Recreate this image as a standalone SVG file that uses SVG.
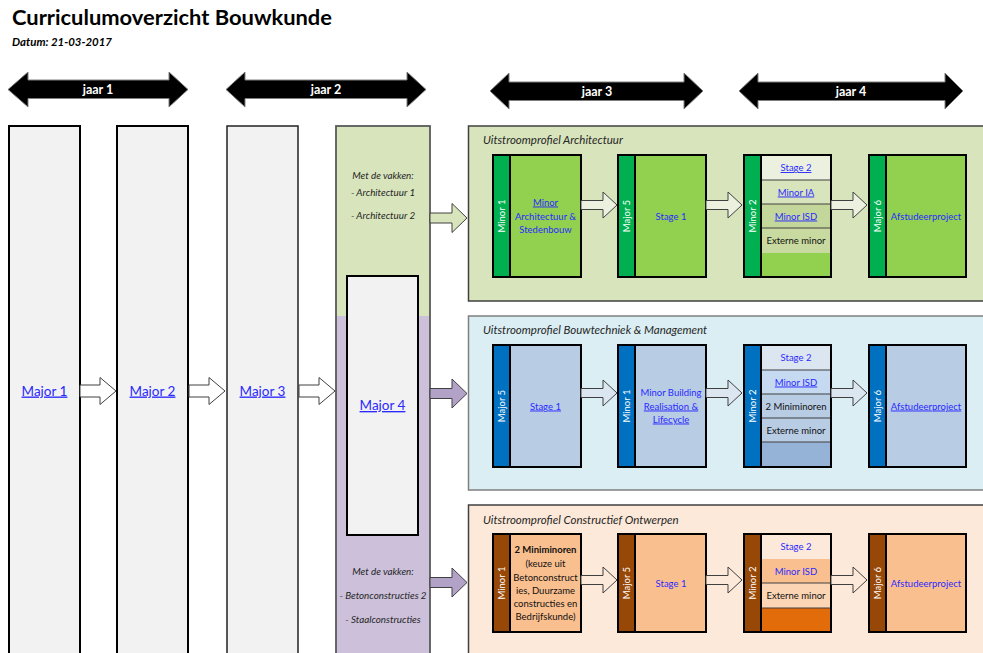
<svg xmlns="http://www.w3.org/2000/svg" width="983" height="653" viewBox="0 0 983 653">
<style>
text{font-family:Lato,"Liberation Sans",sans-serif}
.col{fill:#f2f2f2;stroke:#000;stroke-width:2}
.blk{stroke:#000;stroke-width:2}
.ol{fill:none;stroke:#000;stroke-width:2}
.big{font-size:13.5px}
.sm{font-size:9.5px}
.it{font-style:italic;font-size:9.8px;fill:#262626}
.pt{font-style:italic;font-size:11.5px;fill:#262626}
.bl{fill:#2a2aff}
.u{text-decoration:underline}
.k{fill:#111}
.w{fill:#fff;font-size:9.5px}
.hd{fill:#000;stroke:#7f7f7f;stroke-width:1}
.hdt{fill:#fff;font-weight:bold;font-size:12.5px}
.arr{stroke:#404040;stroke-width:1}
.sep{stroke:#404040;stroke-width:1.2}
</style>
<defs>
<path id="pa" d="M0,-4.5H22V-13L36,0L22,13V4.5H0Z"/>
<path id="ma" d="M0,-6H20V-13.5L36,0L20,13.5V6H0Z"/>
<path id="ca" d="M0,-5H22V-14.5L37,0L22,14.5V5H0Z"/>
</defs>

<g id="title">
<text x="12" y="25" font-weight="bold" font-size="20.5" textLength="320" lengthAdjust="spacingAndGlyphs">Curriculumoverzicht Bouwkunde</text>
<text x="12" y="46" font-weight="bold" font-style="italic" font-size="10.5" textLength="100" lengthAdjust="spacingAndGlyphs">Datum: 21-03-2017</text>
</g>

<g id="jaar1"><polygon class="hd" points="8,89.5 28,72 28,80 169,80 169,72 188,89.5 169,107 169,98.5 28,98.5 28,107"/><text class="hdt" x="98" y="94" text-anchor="middle">jaar 1</text></g>
<g id="jaar2"><polygon class="hd" points="226,89.5 245,72 245,80 407,80 407,72 426,89.5 407,107 407,98.5 245,98.5 245,107"/><text class="hdt" x="326" y="94" text-anchor="middle">jaar 2</text></g>
<g id="jaar3"><polygon class="hd" points="490,91 509,73 509,82 684,82 684,73 703,91 684,109 684,100.5 509,100.5 509,109"/><text class="hdt" x="597" y="95.5" text-anchor="middle">jaar 3</text></g>
<g id="jaar4"><polygon class="hd" points="739,91 758,73 758,82 945,82 945,73 963,91 945,109 945,100.5 758,100.5 758,109"/><text class="hdt" x="851" y="95.5" text-anchor="middle">jaar 4</text></g>

<g id="major1"><rect class="col" x="9" y="126" width="71" height="540"/><text class="big bl u" x="44.5" y="395.5" text-anchor="middle">Major 1</text></g>
<g id="major2"><rect class="col" x="117" y="126" width="71" height="540"/><text class="big bl u" x="152.5" y="395.5" text-anchor="middle">Major 2</text></g>
<g id="major3"><rect class="col" x="227" y="126" width="71" height="540" style="stroke:#222;stroke-width:1.5"/><text class="big bl u" x="262.5" y="395.5" text-anchor="middle">Major 3</text></g>

<g id="column4">
<rect x="336" y="126" width="94" height="190" fill="#d8e4bc"/>
<rect x="336" y="316" width="94" height="350" fill="#ccc0da"/>
<rect x="336" y="126" width="94" height="540" fill="none" stroke="#595959" stroke-width="1.8"/>
<text class="it" x="383" y="179" text-anchor="middle">Met de vakken:</text>
<text class="it" x="383" y="196" text-anchor="middle">- Architectuur 1</text>
<text class="it" x="383" y="219" text-anchor="middle">- Architectuur 2</text>
<text class="it" x="383" y="575" text-anchor="middle">Met de vakken:</text>
<text class="it" x="383" y="598.5" text-anchor="middle">- Betonconstructies 2</text>
<text class="it" x="383" y="622.5" text-anchor="middle">- Staalconstructies</text>
</g>
<g id="major4"><rect class="col" x="347" y="276" width="71" height="259"/><text class="big bl u" x="382.5" y="410" text-anchor="middle">Major 4</text></g>

<g id="panel-architectuur">
<rect x="468.5" y="126" width="530" height="175" fill="#d8e4bc" stroke="#404040" stroke-width="1.5"/>
<text class="pt" x="483" y="144">Uitstroomprofiel Architectuur</text>
</g>
<g id="panel-bouwtechniek">
<rect x="468.5" y="316" width="530" height="174" fill="#daeef3" stroke="#7f7f7f" stroke-width="1.5"/>
<text class="pt" x="483" y="334">Uitstroomprofiel Bouwtechniek &amp; Management</text>
</g>
<g id="panel-constructief">
<rect x="468.5" y="505" width="530" height="160" fill="#fde9d9" stroke="#404040" stroke-width="1.5"/>
<text class="pt" x="483" y="524">Uitstroomprofiel Constructief Ontwerpen</text>
</g>

<g id="a-minor1">
<rect class="blk" x="493" y="155" width="88" height="122" fill="#92d050"/>
<rect class="blk" x="493" y="155" width="17" height="122" fill="#00b050"/>
<text class="w" x="501.5" y="216" text-anchor="middle" dominant-baseline="central" transform="rotate(-90 501.5 216)">Minor 1</text>
<text class="sm bl u" x="545.5" y="205.5" text-anchor="middle">Minor</text>
<text class="sm bl" x="545.5" y="219.5" text-anchor="middle">Architectuur &amp;</text>
<text class="sm bl" x="545.5" y="232.5" text-anchor="middle">Stedenbouw</text>
</g>
<g id="a-major5">
<rect class="blk" x="618" y="155" width="88" height="122" fill="#92d050"/>
<rect class="blk" x="618" y="155" width="17" height="122" fill="#00b050"/>
<text class="w" x="626.5" y="216" text-anchor="middle" dominant-baseline="central" transform="rotate(-90 626.5 216)">Major 5</text>
<text class="sm bl" x="671" y="219.5" text-anchor="middle">Stage 1</text>
</g>
<g id="a-minor2">
<rect x="744" y="155" width="87" height="122" fill="#92d050"/>
<rect x="761" y="155" width="70" height="25" fill="#ebf1de"/>
<rect x="761" y="180" width="70" height="24" fill="#d8e4bc"/>
<rect x="761" y="204" width="70" height="24" fill="#c4d79b"/>
<rect x="761" y="228" width="70" height="25" fill="#c8da9f"/>
<line class="sep" x1="761" y1="180" x2="831" y2="180"/>
<line class="sep" x1="761" y1="204" x2="831" y2="204"/>
<line class="sep" x1="761" y1="228" x2="831" y2="228"/>
<rect class="blk" x="744" y="155" width="17" height="122" fill="#00b050"/>
<rect class="ol" x="744" y="155" width="87" height="122"/>
<text class="w" x="752.5" y="216" text-anchor="middle" dominant-baseline="central" transform="rotate(-90 752.5 216)">Minor 2</text>
<text class="sm bl u" x="796" y="171" text-anchor="middle">Stage 2</text>
<text class="sm bl u" x="796" y="195.5" text-anchor="middle">Minor IA</text>
<text class="sm bl u" x="796" y="219.5" text-anchor="middle">Minor ISD</text>
<text class="sm k" x="796" y="244" text-anchor="middle">Externe minor</text>
</g>
<g id="a-major6">
<rect class="blk" x="869" y="155" width="97" height="122" fill="#92d050"/>
<rect class="blk" x="869" y="155" width="17" height="122" fill="#00b050"/>
<text class="w" x="877.5" y="216" text-anchor="middle" dominant-baseline="central" transform="rotate(-90 877.5 216)">Major 6</text>
<text class="sm bl" x="926" y="219.5" text-anchor="middle">Afstudeerproject</text>
</g>

<g id="b-major5">
<rect class="blk" x="493" y="345" width="88" height="122" fill="#b8cce4"/>
<rect class="blk" x="493" y="345" width="17" height="122" fill="#0070c0"/>
<text class="w" x="501.5" y="406" text-anchor="middle" dominant-baseline="central" transform="rotate(-90 501.5 406)">Major 5</text>
<text class="sm bl u" x="545.5" y="409.5" text-anchor="middle">Stage 1</text>
</g>
<g id="b-minor1">
<rect class="blk" x="618" y="345" width="88" height="122" fill="#b8cce4"/>
<rect class="blk" x="618" y="345" width="17" height="122" fill="#0070c0"/>
<text class="w" x="626.5" y="406" text-anchor="middle" dominant-baseline="central" transform="rotate(-90 626.5 406)">Minor 1</text>
<text class="sm bl" x="671" y="395.5" text-anchor="middle">Minor Building</text>
<text class="sm bl u" x="671" y="409.5" text-anchor="middle">Realisation &amp;</text>
<text class="sm bl u" x="671" y="422.5" text-anchor="middle">Lifecycle</text>
</g>
<g id="b-minor2">
<rect x="744" y="345" width="87" height="122" fill="#95b3d7"/>
<rect x="761" y="345" width="70" height="25" fill="#dce6f1"/>
<rect x="761" y="370" width="70" height="24" fill="#c5d9f1"/>
<rect x="761" y="394" width="70" height="48" fill="#b8cce4"/>
<line class="sep" x1="761" y1="370" x2="831" y2="370"/>
<line class="sep" x1="761" y1="394" x2="831" y2="394"/>
<line class="sep" x1="761" y1="418" x2="831" y2="418"/>
<line class="sep" x1="761" y1="442" x2="831" y2="442"/>
<rect class="blk" x="744" y="345" width="17" height="122" fill="#0070c0"/>
<rect class="ol" x="744" y="345" width="87" height="122"/>
<text class="w" x="752.5" y="406" text-anchor="middle" dominant-baseline="central" transform="rotate(-90 752.5 406)">Minor 2</text>
<text class="sm bl" x="796" y="361" text-anchor="middle">Stage 2</text>
<text class="sm bl u" x="796" y="385.5" text-anchor="middle">Minor ISD</text>
<text class="sm k" x="796" y="409.5" text-anchor="middle">2 Miniminoren</text>
<text class="sm k" x="796" y="433.5" text-anchor="middle">Externe minor</text>
</g>
<g id="b-major6">
<rect class="blk" x="869" y="345" width="97" height="122" fill="#b8cce4"/>
<rect class="blk" x="869" y="345" width="17" height="122" fill="#0070c0"/>
<text class="w" x="877.5" y="406" text-anchor="middle" dominant-baseline="central" transform="rotate(-90 877.5 406)">Major 6</text>
<text class="sm bl u" x="926" y="409.5" text-anchor="middle">Afstudeerproject</text>
</g>

<g id="c-minor1">
<rect class="blk" x="493" y="534" width="88" height="98" fill="#fabf8f"/>
<rect class="blk" x="493" y="534" width="17" height="98" fill="#974706"/>
<text class="w" x="501.5" y="583" text-anchor="middle" dominant-baseline="central" transform="rotate(-90 501.5 583)">Minor 1</text>
<text class="sm k" x="545.5" y="552.5" text-anchor="middle" font-weight="bold">2 Miniminoren</text>
<text class="sm k" x="545.5" y="566.5" text-anchor="middle">(keuze uit</text>
<text class="sm k" x="545.5" y="580.5" text-anchor="middle">Betonconstruct</text>
<text class="sm k" x="545.5" y="593.5" text-anchor="middle">ies, Duurzame</text>
<text class="sm k" x="545.5" y="606.5" text-anchor="middle">constructies en</text>
<text class="sm k" x="545.5" y="619.5" text-anchor="middle">Bedrijfskunde)</text>
</g>
<g id="c-major5">
<rect class="blk" x="618" y="534" width="88" height="98" fill="#fabf8f"/>
<rect class="blk" x="618" y="534" width="17" height="98" fill="#974706"/>
<text class="w" x="626.5" y="583" text-anchor="middle" dominant-baseline="central" transform="rotate(-90 626.5 583)">Major 5</text>
<text class="sm bl" x="671" y="586.5" text-anchor="middle">Stage 1</text>
</g>
<g id="c-minor2">
<rect x="744" y="534" width="87" height="98" fill="#e26b0a"/>
<rect x="761" y="534" width="70" height="25" fill="#fde9d9"/>
<rect x="761" y="559" width="70" height="24" fill="#fabf8f"/>
<rect x="761" y="583" width="70" height="25" fill="#fcd5b4"/>
<line class="sep" x1="761" y1="583" x2="831" y2="583"/>
<line class="sep" x1="761" y1="608" x2="831" y2="608"/>
<rect class="blk" x="744" y="534" width="17" height="98" fill="#974706"/>
<rect class="ol" x="744" y="534" width="87" height="98"/>
<text class="w" x="752.5" y="583" text-anchor="middle" dominant-baseline="central" transform="rotate(-90 752.5 583)">Minor 2</text>
<text class="sm bl" x="796" y="550" text-anchor="middle">Stage 2</text>
<text class="sm bl" x="796" y="574.5" text-anchor="middle">Minor ISD</text>
<text class="sm k" x="796" y="599" text-anchor="middle">Externe minor</text>
</g>
<g id="c-major6">
<rect class="blk" x="869" y="534" width="97" height="98" fill="#fabf8f"/>
<rect class="blk" x="869" y="534" width="17" height="98" fill="#974706"/>
<text class="w" x="877.5" y="583" text-anchor="middle" dominant-baseline="central" transform="rotate(-90 877.5 583)">Major 6</text>
<text class="sm bl" x="926" y="586.5" text-anchor="middle">Afstudeerproject</text>
</g>

<g id="connectors">
<use href="#ma" class="arr" fill="#fff" transform="translate(80,391)"/>
<use href="#ma" class="arr" fill="#fff" transform="translate(189,391)"/>
<use href="#ma" class="arr" fill="#fff" transform="translate(299,391)"/>
<use href="#ca" class="arr" fill="#d8e4bc" transform="translate(430,218)"/>
<use href="#ca" class="arr" fill="#b3a2c7" transform="translate(430,393.5)"/>
<use href="#ca" class="arr" fill="#b3a2c7" transform="translate(430,582.5)"/>
<use href="#pa" class="arr" fill="#ebf1de" transform="translate(581,205)"/>
<use href="#pa" class="arr" fill="#ebf1de" transform="translate(706,205)"/>
<use href="#pa" class="arr" fill="#ebf1de" transform="translate(831,205)"/>
<use href="#pa" class="arr" fill="#dce6f1" transform="translate(581,393)"/>
<use href="#pa" class="arr" fill="#dce6f1" transform="translate(706,393)"/>
<use href="#pa" class="arr" fill="#dce6f1" transform="translate(831,393)"/>
<use href="#pa" class="arr" fill="#fde9d9" transform="translate(581,580)"/>
<use href="#pa" class="arr" fill="#fde9d9" transform="translate(706,580)"/>
<use href="#pa" class="arr" fill="#fde9d9" transform="translate(831,580)"/>
</g>
</svg>
